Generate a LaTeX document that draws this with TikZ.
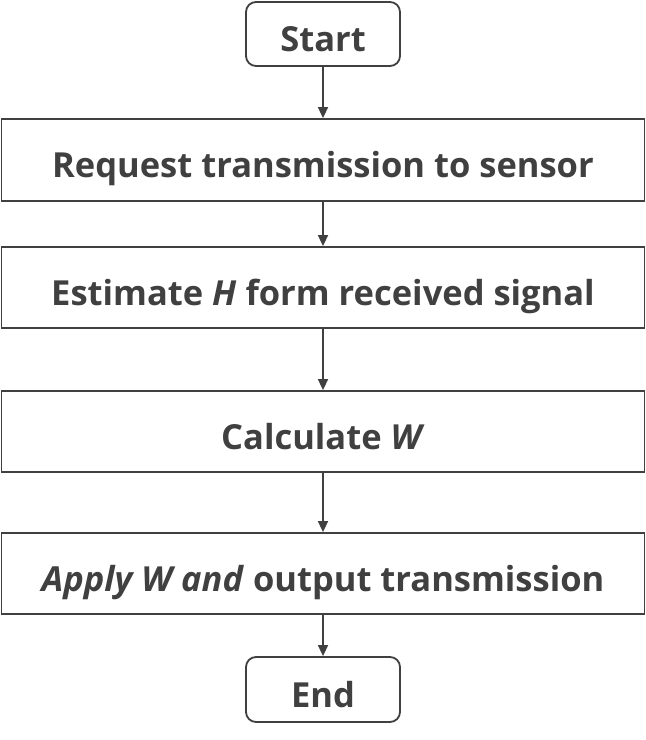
\documentclass[tikz,border=0pt]{standalone}
\usepackage{fontspec}
\setmainfont{Open Sans}
\usetikzlibrary{arrows.meta}
\definecolor{ink}{HTML}{404040}
\begin{document}
\begin{tikzpicture}[x=1pt,y=-1pt,
  box/.style={draw=ink,line width=1.8pt,fill=white,text=ink,font=\bfseries\fontsize{34.5}{40}\selectfont,inner sep=0pt,text height=35pt,text depth=0pt},
  term/.style={box,rounded corners=10pt},
  flow/.style={draw=ink,line width=1.6pt,-{Triangle[width=10pt,length=11pt]}}]
\useasboundingbox (0,0) rectangle (646,740);
\node[term,minimum width=154pt,minimum height=64pt] (start) at (323,34) {Start};
\node[box,minimum width=643pt,minimum height=82pt] (req) at (323,160) {Request transmission to sensor};
\node[box,minimum width=643pt,minimum height=81pt] (est) at (323,287.5) {Estimate \textit{H} form received signal};
\node[box,minimum width=643pt,minimum height=81pt] (calc) at (323,431.5) {Calculate \textit{W}};
\node[box,minimum width=643pt,minimum height=81pt] (app) at (323,573.5) {\textit{Apply W and} output transmission};
\node[term,minimum width=154pt,minimum height=65pt] (end) at (323,689.5) {End};
\draw[flow] (start) -- (req);
\draw[flow] (req) -- (est);
\draw[flow] (est) -- (calc);
\draw[flow] (calc) -- (app);
\draw[flow] (app) -- (end);
\end{tikzpicture}
\end{document}
